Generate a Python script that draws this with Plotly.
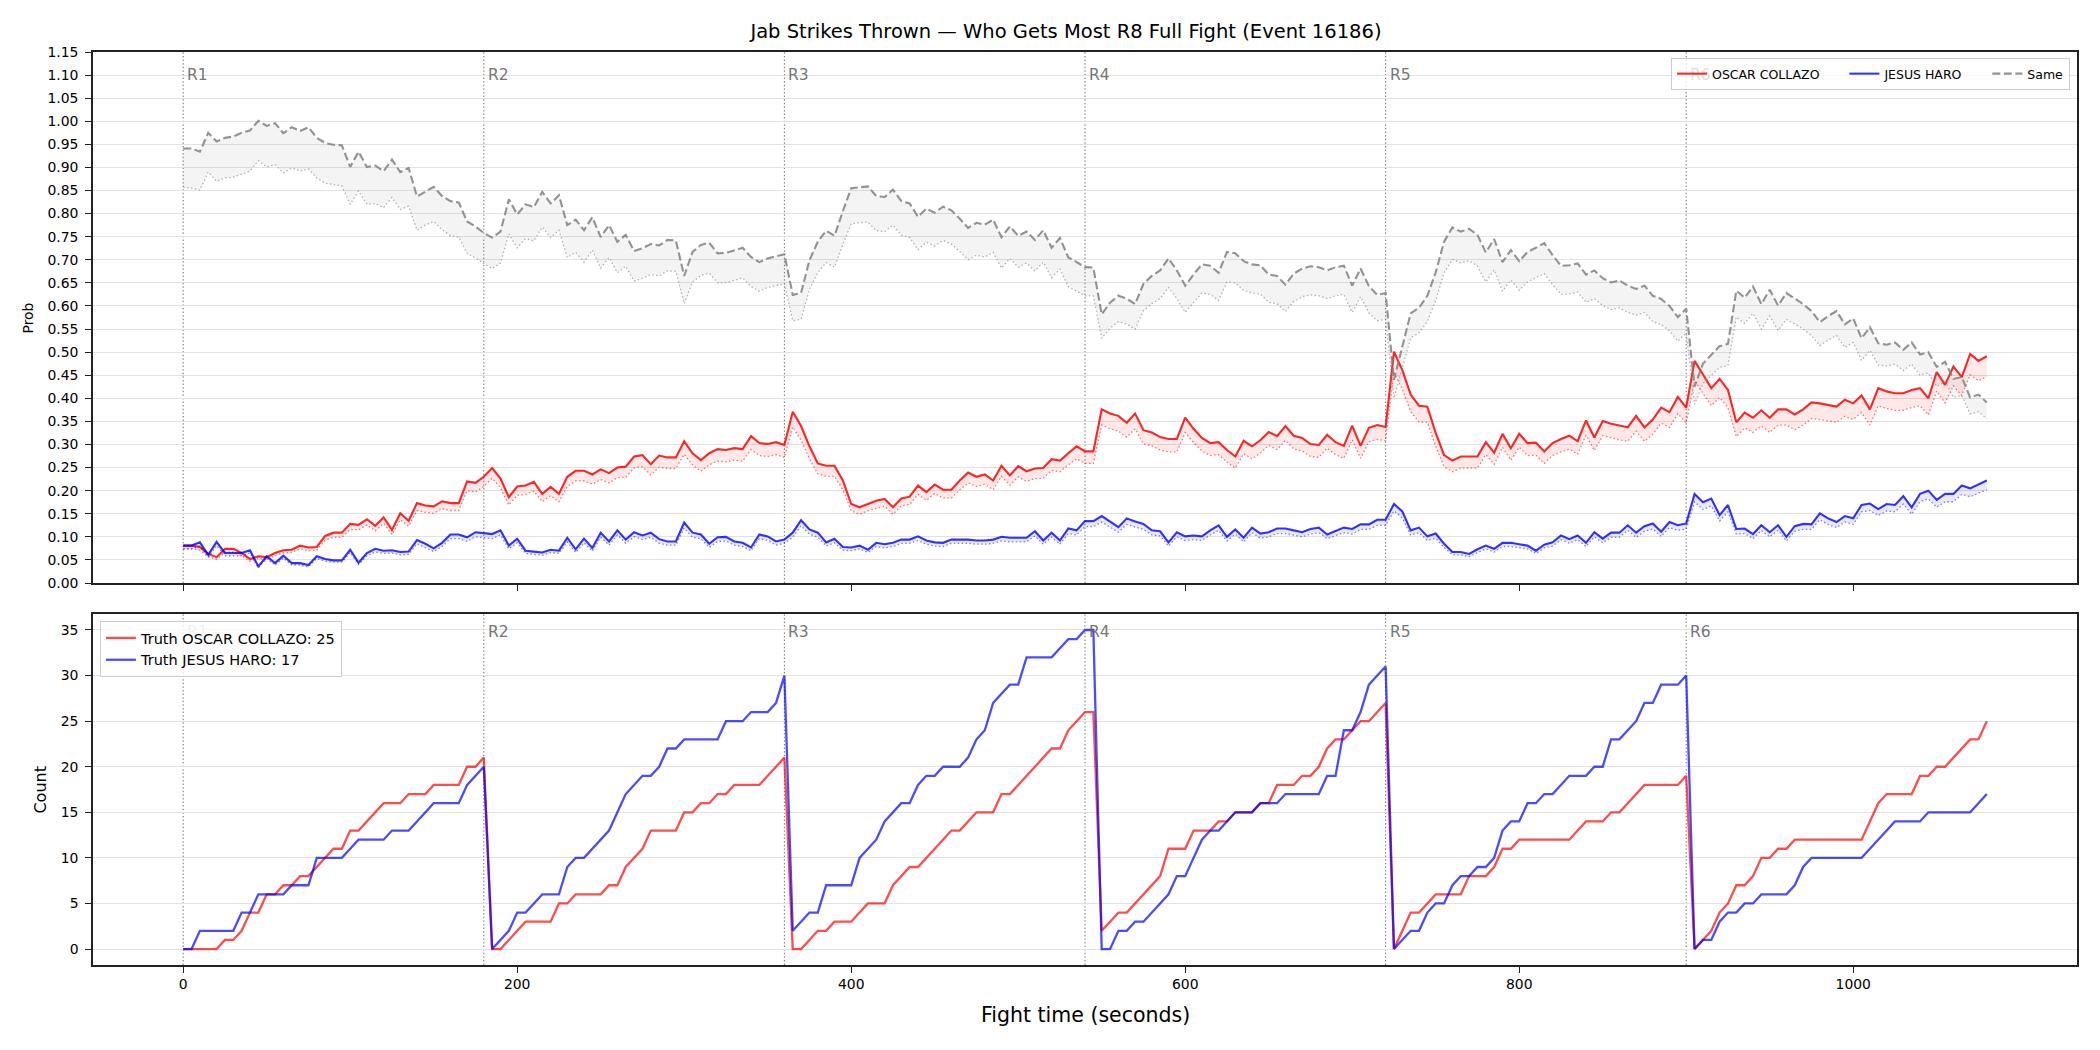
import plotly.graph_objects as go

# ---------------- data ----------------
t = list(range(0, 1081, 5))  # fight time, seconds

round_starts = [0, 180, 360, 540, 720, 900]
round_labels = ["R1", "R2", "R3", "R4", "R5", "R6"]

# "Same" probability: upper (dashed) and lower (dotted) band edges
same_hi = [
    0.941, 0.941, 0.934, 0.975, 0.956, 0.964, 0.967, 0.975, 0.980, 1.001, 0.990, 0.996, 0.974, 0.987, 0.979, 0.987, 0.964, 0.953, 0.949,
    0.948, 0.901, 0.934, 0.901, 0.904, 0.892, 0.917, 0.890, 0.899, 0.837, 0.847, 0.858, 0.838, 0.827, 0.824, 0.783, 0.772, 0.758,
    0.748, 0.761, 0.831, 0.798, 0.820, 0.814, 0.847, 0.822, 0.840, 0.775, 0.787, 0.764, 0.792, 0.749, 0.775, 0.739, 0.754, 0.719,
    0.725, 0.734, 0.731, 0.743, 0.742, 0.665, 0.717, 0.732, 0.737, 0.714, 0.715, 0.720, 0.726, 0.706, 0.695, 0.703, 0.708, 0.712,
    0.624, 0.628, 0.699, 0.739, 0.763, 0.752, 0.805, 0.855, 0.857, 0.859, 0.838, 0.836, 0.852, 0.827, 0.822, 0.793, 0.811, 0.802,
    0.815, 0.807, 0.789, 0.769, 0.780, 0.776, 0.787, 0.749, 0.772, 0.752, 0.761, 0.743, 0.764, 0.726, 0.747, 0.705, 0.695, 0.684,
    0.683, 0.582, 0.607, 0.622, 0.616, 0.604, 0.648, 0.665, 0.677, 0.703, 0.677, 0.644, 0.668, 0.690, 0.687, 0.672, 0.717, 0.714,
    0.697, 0.690, 0.688, 0.668, 0.665, 0.646, 0.670, 0.681, 0.686, 0.684, 0.677, 0.684, 0.687, 0.644, 0.681, 0.643, 0.624, 0.628,
    0.440, 0.512, 0.584, 0.596, 0.622, 0.673, 0.739, 0.770, 0.761, 0.767, 0.754, 0.716, 0.745, 0.695, 0.721, 0.697, 0.717, 0.726,
    0.736, 0.710, 0.687, 0.688, 0.692, 0.668, 0.677, 0.660, 0.651, 0.655, 0.644, 0.637, 0.644, 0.622, 0.615, 0.600, 0.576, 0.594,
    0.425, 0.475, 0.494, 0.513, 0.518, 0.633, 0.618, 0.642, 0.604, 0.635, 0.601, 0.628, 0.616, 0.604, 0.589, 0.565, 0.578, 0.589,
    0.560, 0.573, 0.530, 0.554, 0.519, 0.516, 0.521, 0.505, 0.521, 0.495, 0.500, 0.468, 0.479, 0.442, 0.446, 0.402, 0.408, 0.391,
]
same_lo = [
    0.857, 0.855, 0.851, 0.890, 0.870, 0.877, 0.879, 0.885, 0.892, 0.915, 0.901, 0.906, 0.888, 0.899, 0.892, 0.897, 0.877, 0.866, 0.863,
    0.860, 0.820, 0.849, 0.820, 0.822, 0.813, 0.835, 0.809, 0.816, 0.764, 0.775, 0.783, 0.765, 0.752, 0.749, 0.714, 0.704, 0.692,
    0.681, 0.693, 0.756, 0.726, 0.746, 0.741, 0.771, 0.748, 0.764, 0.705, 0.716, 0.695, 0.721, 0.682, 0.705, 0.672, 0.686, 0.654,
    0.660, 0.668, 0.665, 0.676, 0.675, 0.605, 0.652, 0.666, 0.671, 0.650, 0.651, 0.655, 0.661, 0.642, 0.632, 0.640, 0.644, 0.648,
    0.568, 0.571, 0.636, 0.672, 0.694, 0.684, 0.733, 0.778, 0.780, 0.782, 0.763, 0.761, 0.775, 0.753, 0.748, 0.722, 0.738, 0.730,
    0.742, 0.734, 0.718, 0.700, 0.710, 0.706, 0.716, 0.682, 0.703, 0.684, 0.693, 0.676, 0.695, 0.661, 0.680, 0.642, 0.632, 0.622,
    0.622, 0.530, 0.552, 0.566, 0.561, 0.550, 0.590, 0.605, 0.616, 0.640, 0.616, 0.586, 0.608, 0.628, 0.625, 0.612, 0.652, 0.650,
    0.634, 0.628, 0.626, 0.608, 0.605, 0.588, 0.610, 0.620, 0.624, 0.622, 0.616, 0.622, 0.625, 0.586, 0.620, 0.585, 0.568, 0.571,
    0.400, 0.466, 0.531, 0.542, 0.566, 0.612, 0.672, 0.701, 0.693, 0.698, 0.686, 0.652, 0.678, 0.632, 0.656, 0.634, 0.652, 0.661,
    0.670, 0.646, 0.625, 0.626, 0.630, 0.608, 0.616, 0.601, 0.592, 0.596, 0.586, 0.580, 0.586, 0.566, 0.560, 0.546, 0.524, 0.541,
    0.387, 0.432, 0.450, 0.467, 0.471, 0.576, 0.562, 0.584, 0.550, 0.578, 0.547, 0.571, 0.561, 0.550, 0.536, 0.514, 0.526, 0.536,
    0.510, 0.521, 0.482, 0.504, 0.472, 0.470, 0.474, 0.460, 0.474, 0.450, 0.455, 0.426, 0.436, 0.402, 0.406, 0.366, 0.371, 0.356,
]

# OSCAR COLLAZO probability: upper (solid) and lower (dotted)
oscar_hi = [
    0.081, 0.081, 0.078, 0.063, 0.056, 0.074, 0.074, 0.065, 0.052, 0.058, 0.056, 0.065, 0.071, 0.072, 0.081, 0.077, 0.078, 0.102, 0.109,
    0.109, 0.128, 0.126, 0.138, 0.124, 0.142, 0.115, 0.151, 0.135, 0.173, 0.168, 0.166, 0.177, 0.173, 0.173, 0.220, 0.217, 0.230,
    0.249, 0.226, 0.186, 0.209, 0.211, 0.219, 0.193, 0.208, 0.193, 0.230, 0.243, 0.243, 0.235, 0.246, 0.238, 0.250, 0.252, 0.274,
    0.277, 0.257, 0.276, 0.272, 0.272, 0.307, 0.281, 0.266, 0.281, 0.290, 0.288, 0.292, 0.290, 0.318, 0.303, 0.301, 0.305, 0.299,
    0.371, 0.340, 0.296, 0.259, 0.254, 0.254, 0.222, 0.171, 0.164, 0.171, 0.178, 0.182, 0.164, 0.183, 0.187, 0.211, 0.197, 0.213,
    0.202, 0.202, 0.222, 0.239, 0.230, 0.235, 0.222, 0.254, 0.233, 0.253, 0.242, 0.248, 0.249, 0.268, 0.265, 0.281, 0.296, 0.285,
    0.285, 0.376, 0.367, 0.362, 0.347, 0.367, 0.331, 0.326, 0.316, 0.312, 0.312, 0.358, 0.334, 0.314, 0.303, 0.305, 0.288, 0.274,
    0.308, 0.296, 0.309, 0.327, 0.318, 0.340, 0.319, 0.314, 0.301, 0.299, 0.321, 0.305, 0.297, 0.341, 0.297, 0.336, 0.342, 0.338,
    0.501, 0.461, 0.408, 0.384, 0.382, 0.325, 0.277, 0.265, 0.274, 0.274, 0.274, 0.305, 0.282, 0.323, 0.292, 0.323, 0.303, 0.304,
    0.285, 0.303, 0.312, 0.319, 0.307, 0.352, 0.315, 0.351, 0.345, 0.341, 0.337, 0.362, 0.337, 0.354, 0.380, 0.370, 0.403, 0.380,
    0.481, 0.452, 0.422, 0.442, 0.418, 0.348, 0.369, 0.358, 0.374, 0.358, 0.376, 0.376, 0.365, 0.376, 0.391, 0.389, 0.386, 0.382,
    0.397, 0.389, 0.406, 0.376, 0.422, 0.415, 0.411, 0.411, 0.418, 0.422, 0.400, 0.457, 0.429, 0.469, 0.446, 0.496, 0.481, 0.491,
]
oscar_lo = [
    0.074, 0.074, 0.071, 0.057, 0.051, 0.067, 0.067, 0.059, 0.047, 0.053, 0.051, 0.059, 0.065, 0.066, 0.074, 0.070, 0.071, 0.093, 0.099,
    0.099, 0.116, 0.115, 0.126, 0.113, 0.129, 0.105, 0.137, 0.123, 0.157, 0.153, 0.151, 0.161, 0.157, 0.157, 0.200, 0.197, 0.209,
    0.227, 0.206, 0.169, 0.190, 0.192, 0.199, 0.176, 0.189, 0.176, 0.209, 0.221, 0.221, 0.214, 0.224, 0.217, 0.228, 0.229, 0.249,
    0.252, 0.234, 0.251, 0.248, 0.248, 0.279, 0.256, 0.242, 0.256, 0.264, 0.262, 0.266, 0.264, 0.289, 0.276, 0.274, 0.278, 0.272,
    0.338, 0.309, 0.269, 0.236, 0.231, 0.231, 0.202, 0.156, 0.149, 0.156, 0.162, 0.166, 0.149, 0.167, 0.170, 0.192, 0.179, 0.194,
    0.184, 0.184, 0.202, 0.217, 0.209, 0.214, 0.202, 0.231, 0.212, 0.230, 0.220, 0.226, 0.227, 0.244, 0.241, 0.256, 0.269, 0.259,
    0.259, 0.342, 0.334, 0.329, 0.316, 0.334, 0.301, 0.297, 0.288, 0.284, 0.284, 0.326, 0.304, 0.286, 0.276, 0.278, 0.262, 0.249,
    0.280, 0.269, 0.281, 0.298, 0.289, 0.309, 0.290, 0.286, 0.274, 0.272, 0.292, 0.278, 0.270, 0.310, 0.270, 0.306, 0.311, 0.308,
    0.456, 0.420, 0.371, 0.349, 0.348, 0.296, 0.252, 0.241, 0.249, 0.249, 0.249, 0.278, 0.257, 0.294, 0.266, 0.294, 0.276, 0.277,
    0.259, 0.276, 0.284, 0.290, 0.279, 0.320, 0.287, 0.319, 0.314, 0.310, 0.307, 0.329, 0.307, 0.322, 0.346, 0.337, 0.367, 0.346,
    0.438, 0.411, 0.384, 0.402, 0.380, 0.317, 0.336, 0.326, 0.340, 0.326, 0.342, 0.342, 0.332, 0.342, 0.356, 0.354, 0.351, 0.348,
    0.361, 0.354, 0.369, 0.342, 0.384, 0.378, 0.374, 0.374, 0.380, 0.384, 0.364, 0.416, 0.390, 0.427, 0.406, 0.451, 0.438, 0.447,
]

# JESUS HARO probability: upper (solid) and lower (dotted)
jesus_hi = [
    0.081, 0.081, 0.088, 0.061, 0.089, 0.065, 0.065, 0.065, 0.071, 0.036, 0.058, 0.043, 0.059, 0.043, 0.043, 0.039, 0.058, 0.052, 0.049,
    0.049, 0.072, 0.044, 0.065, 0.074, 0.070, 0.071, 0.067, 0.068, 0.093, 0.085, 0.075, 0.087, 0.105, 0.105, 0.099, 0.110, 0.108,
    0.106, 0.114, 0.081, 0.096, 0.070, 0.068, 0.066, 0.072, 0.070, 0.098, 0.073, 0.096, 0.076, 0.109, 0.090, 0.114, 0.094, 0.110,
    0.103, 0.109, 0.095, 0.090, 0.090, 0.131, 0.109, 0.105, 0.085, 0.099, 0.100, 0.090, 0.087, 0.077, 0.105, 0.101, 0.090, 0.094,
    0.109, 0.136, 0.116, 0.109, 0.088, 0.096, 0.078, 0.077, 0.081, 0.072, 0.087, 0.084, 0.087, 0.094, 0.094, 0.101, 0.092, 0.088,
    0.087, 0.094, 0.094, 0.094, 0.092, 0.092, 0.094, 0.100, 0.098, 0.098, 0.098, 0.112, 0.092, 0.109, 0.092, 0.118, 0.114, 0.134,
    0.134, 0.145, 0.133, 0.121, 0.140, 0.133, 0.128, 0.114, 0.112, 0.088, 0.110, 0.101, 0.103, 0.101, 0.114, 0.125, 0.100, 0.116,
    0.098, 0.120, 0.107, 0.110, 0.118, 0.118, 0.114, 0.110, 0.117, 0.120, 0.105, 0.112, 0.120, 0.117, 0.127, 0.127, 0.137, 0.137,
    0.171, 0.155, 0.114, 0.120, 0.101, 0.107, 0.085, 0.067, 0.067, 0.063, 0.073, 0.081, 0.074, 0.087, 0.087, 0.084, 0.081, 0.070,
    0.083, 0.088, 0.103, 0.095, 0.103, 0.087, 0.110, 0.096, 0.109, 0.109, 0.125, 0.109, 0.123, 0.129, 0.111, 0.132, 0.125, 0.129,
    0.193, 0.175, 0.183, 0.147, 0.169, 0.117, 0.118, 0.106, 0.125, 0.110, 0.125, 0.100, 0.123, 0.128, 0.127, 0.151, 0.140, 0.132,
    0.145, 0.140, 0.169, 0.172, 0.160, 0.171, 0.169, 0.188, 0.164, 0.193, 0.200, 0.180, 0.193, 0.193, 0.211, 0.205, 0.213, 0.222,
]
jesus_lo = [
    0.074, 0.074, 0.080, 0.056, 0.081, 0.059, 0.059, 0.059, 0.065, 0.033, 0.053, 0.039, 0.054, 0.039, 0.039, 0.035, 0.053, 0.047, 0.045,
    0.045, 0.066, 0.040, 0.059, 0.067, 0.064, 0.065, 0.061, 0.062, 0.085, 0.077, 0.068, 0.079, 0.096, 0.096, 0.090, 0.100, 0.098,
    0.096, 0.104, 0.074, 0.087, 0.064, 0.062, 0.060, 0.066, 0.064, 0.089, 0.066, 0.087, 0.069, 0.099, 0.082, 0.104, 0.086, 0.100,
    0.094, 0.099, 0.086, 0.082, 0.082, 0.119, 0.099, 0.096, 0.077, 0.090, 0.091, 0.082, 0.079, 0.070, 0.096, 0.092, 0.082, 0.086,
    0.099, 0.124, 0.106, 0.099, 0.080, 0.087, 0.071, 0.070, 0.074, 0.066, 0.079, 0.076, 0.079, 0.086, 0.086, 0.092, 0.084, 0.080,
    0.079, 0.086, 0.086, 0.086, 0.084, 0.084, 0.086, 0.091, 0.089, 0.089, 0.089, 0.102, 0.084, 0.099, 0.084, 0.107, 0.104, 0.122,
    0.122, 0.132, 0.121, 0.110, 0.127, 0.121, 0.116, 0.104, 0.102, 0.080, 0.100, 0.092, 0.094, 0.092, 0.104, 0.114, 0.091, 0.106,
    0.089, 0.109, 0.097, 0.100, 0.107, 0.107, 0.104, 0.100, 0.106, 0.109, 0.096, 0.102, 0.109, 0.106, 0.116, 0.116, 0.125, 0.125,
    0.156, 0.141, 0.104, 0.109, 0.092, 0.097, 0.077, 0.061, 0.061, 0.057, 0.066, 0.074, 0.067, 0.079, 0.079, 0.076, 0.074, 0.064,
    0.076, 0.080, 0.094, 0.086, 0.094, 0.079, 0.100, 0.087, 0.099, 0.099, 0.114, 0.099, 0.112, 0.117, 0.101, 0.120, 0.114, 0.117,
    0.176, 0.159, 0.167, 0.134, 0.154, 0.106, 0.107, 0.096, 0.114, 0.100, 0.114, 0.091, 0.112, 0.116, 0.116, 0.137, 0.127, 0.120,
    0.132, 0.127, 0.154, 0.157, 0.146, 0.156, 0.154, 0.171, 0.149, 0.176, 0.182, 0.164, 0.176, 0.176, 0.192, 0.187, 0.194, 0.202,
]

# Truth cumulative jab counts within each round
oscar_count = [
    0, 0, 0, 0, 0, 1, 1, 2, 4, 4, 6, 6, 7, 7, 8, 8, 9, 10, 11, 11, 13, 13, 14, 15, 16, 16, 16, 17, 17, 17, 18, 18, 18, 18, 20, 20, 21,
    0, 0, 1, 2, 3, 3, 3, 3, 5, 5, 6, 6, 6, 6, 7, 7, 9, 10, 11, 13, 13, 13, 13, 15, 15, 16, 16, 17, 17, 18, 18, 18, 18, 19, 20, 21,
    0, 0, 1, 2, 2, 3, 3, 3, 4, 5, 5, 5, 7, 8, 9, 9, 10, 11, 12, 13, 13, 14, 15, 15, 15, 17, 17, 18, 19, 20, 21, 22, 22, 24, 25, 26,
    26, 2, 3, 4, 4, 5, 6, 7, 8, 11, 11, 11, 13, 13, 13, 14, 14, 15, 15, 15, 16, 16, 18, 18, 18, 19, 19, 20, 22, 23, 23, 24, 25, 25, 26, 27,
    0, 2, 4, 4, 5, 6, 6, 6, 6, 8, 8, 8, 9, 11, 11, 12, 12, 12, 12, 12, 12, 12, 13, 14, 14, 14, 15, 15, 16, 17, 18, 18, 18, 18, 18, 19,
    0, 1, 2, 4, 5, 7, 7, 8, 10, 10, 11, 11, 12, 12, 12, 12, 12, 12, 12, 12, 12, 14, 16, 17, 17, 17, 17, 19, 19, 20, 20, 21, 22, 23, 23, 25,
]
jesus_count = [
    0, 0, 2, 2, 2, 2, 2, 4, 4, 6, 6, 6, 6, 7, 7, 7, 10, 10, 10, 10, 11, 12, 12, 12, 12, 13, 13, 13, 14, 15, 16, 16, 16, 16, 18, 19, 20,
    0, 1, 2, 4, 4, 5, 6, 6, 6, 9, 10, 10, 11, 12, 13, 15, 17, 18, 19, 19, 20, 22, 22, 23, 23, 23, 23, 23, 25, 25, 25, 26, 26, 26, 27, 30,
    2, 3, 4, 4, 7, 7, 7, 7, 10, 11, 12, 14, 15, 16, 16, 18, 19, 19, 20, 20, 20, 21, 23, 24, 27, 28, 29, 29, 32, 32, 32, 32, 33, 34, 34, 35,
    35, 0, 0, 2, 2, 3, 3, 4, 5, 6, 8, 8, 10, 12, 13, 13, 14, 15, 15, 15, 16, 16, 16, 17, 17, 17, 17, 17, 19, 19, 24, 24, 26, 29, 30, 31,
    0, 1, 2, 2, 4, 5, 5, 7, 8, 8, 9, 9, 10, 13, 14, 14, 16, 16, 17, 17, 18, 19, 19, 19, 20, 20, 23, 23, 24, 25, 27, 27, 29, 29, 29, 30,
    0, 1, 1, 3, 4, 4, 5, 5, 6, 6, 6, 6, 7, 9, 10, 10, 10, 10, 10, 10, 10, 11, 12, 13, 14, 14, 14, 14, 15, 15, 15, 15, 15, 15, 16, 17,
]

for arr in (same_hi, same_lo, oscar_hi, oscar_lo, jesus_hi, jesus_lo, oscar_count, jesus_count):
    assert len(arr) == len(t), len(arr)

name_a = "OSCAR COLLAZO"
name_b = "JESUS HARO"
name_same = "Same"

# ---------------- figure ----------------
FONT = "DejaVu Sans"
NBSP = "\u00a0"
fig = go.Figure()


def band(lo, hi, line_color, dot_color, fill_color, name, dash, lw):
    fig.add_trace(go.Scatter(x=t, y=lo, mode="lines", xaxis="x", yaxis="y", showlegend=False,
                             line=dict(color=dot_color, width=1.3, dash="1.5px,2.4px"), hoverinfo="skip"))
    fig.add_trace(go.Scatter(x=t, y=hi, mode="lines", xaxis="x", yaxis="y", showlegend=False,
                             fill="tonexty", fillcolor=fill_color,
                             line=dict(color="rgba(0,0,0,0)", width=0), hoverinfo="skip"))
    fig.add_trace(go.Scatter(x=t, y=hi, mode="lines", xaxis="x", yaxis="y", name=name, legend="legend",
                             line=dict(color=line_color, width=lw, dash=dash)))


band(oscar_lo, oscar_hi, "rgba(255,0,0,0.85)", "rgba(255,0,0,0.55)", "rgba(255,0,0,0.09)",
     name_a + NBSP * 5, "solid", 2.1)
band(jesus_lo, jesus_hi, "rgba(0,0,255,0.8)", "rgba(0,0,255,0.5)", "rgba(0,0,255,0.09)",
     name_b + NBSP * 5, "solid", 2.1)
band(same_lo, same_hi, "rgba(128,128,128,0.85)", "rgba(128,128,128,0.6)", "rgba(128,128,128,0.09)",
     name_same, "8px,3.5px", 2.1)

fig.add_trace(go.Scatter(x=t, y=oscar_count, mode="lines", xaxis="x2", yaxis="y2", legend="legend2",
                         name=f"Truth {name_a}: {oscar_count[-1]}",
                         line=dict(color="rgba(255,0,0,0.7)", width=2.3)))
fig.add_trace(go.Scatter(x=t, y=jesus_count, mode="lines", xaxis="x2", yaxis="y2", legend="legend2",
                         name=f"Truth {name_b}: {jesus_count[-1]}",
                         line=dict(color="rgba(0,0,255,0.7)", width=2.3)))

shapes = []
annotations = []
for rs, rl in zip(round_starts, round_labels):
    for xr, yr, yfrac, faded in (("x", "y", 0.9567, rl == "R6"), ("x2", "y2", 0.9487, rl == "R1")):
        shapes.append(dict(type="line", xref=xr, yref=yr + " domain", x0=rs, x1=rs, y0=0, y1=1,
                           line=dict(color="rgba(60,60,60,0.75)", width=1, dash="1.4px,2.2px"), layer="below"))
        col = "rgba(100,100,100,0.9)"
        if faded:
            col = "rgba(100,100,100,0.22)" if yr == "y" else "rgba(100,100,100,0.10)"
        annotations.append(dict(x=rs, y=yfrac, xref=xr, yref=yr + " domain", text=rl, showarrow=False,
                                xanchor="left", yanchor="middle", xshift=2,
                                font=dict(family=FONT, size=15.5, color=col)))

annotations.append(dict(x=-0.0328, y=0.5, xref="paper", yref="y domain", text="Prob", textangle=-90,
                        showarrow=False, xanchor="center", yanchor="middle",
                        font=dict(family=FONT, size=13.9, color="black")))
annotations.append(dict(x=-0.0267, y=0.5, xref="paper", yref="y2 domain", text="Count", textangle=-90,
                        showarrow=False, xanchor="center", yanchor="middle",
                        font=dict(family=FONT, size=16, color="black")))
annotations.append(dict(x=0.5, y=-0.055, xref="paper", yref="paper", text="Fight time (seconds)",
                        showarrow=False, xanchor="center", yanchor="middle",
                        font=dict(family=FONT, size=20.5, color="black")))

axis_common = dict(showline=True, mirror=True, linecolor="#222222", linewidth=1.5,
                   ticks="outside", ticklen=6, tickwidth=1.3, tickcolor="#222222", zeroline=False,
                   tickfont=dict(family=FONT, size=13.9, color="black"))

fig.update_layout(
    width=2100, height=1050,
    margin=dict(l=93, r=23, t=52, b=85),
    paper_bgcolor="white", plot_bgcolor="white",
    font=dict(family=FONT, color="black"),
    title=dict(text="Jab Strikes Thrown — Who Gets Most R8 Full Fight (Event 16186)",
               x=0.5076, xref="container", xanchor="center", y=0.9705, yref="container", yanchor="middle",
               font=dict(family=FONT, size=19.5, color="black")),
    xaxis=dict(domain=[0, 1], anchor="y", range=[-54, 1134], tickvals=[0, 200, 400, 600, 800, 1000],
               showticklabels=False, showgrid=False, matches="x2", **axis_common),
    yaxis=dict(domain=[0.4184, 1], anchor="x", range=[0, 1.15], tick0=0, dtick=0.05, tickformat=".2f",
               showgrid=True, gridcolor="#e2e2e2", gridwidth=1, ticklabelstandoff=4, **axis_common),
    xaxis2=dict(domain=[0, 1], anchor="y2", range=[-54, 1134], tickvals=[0, 200, 400, 600, 800, 1000],
                showgrid=False, **axis_common),
    yaxis2=dict(domain=[0, 0.3844], anchor="x2", range=[-1.75, 36.75], tick0=0, dtick=5,
                showgrid=True, gridcolor="#e2e2e2", gridwidth=1, ticklabelstandoff=4, **axis_common),
    legend=dict(orientation="h", x=0.9965, y=0.9934, xanchor="right", yanchor="top", traceorder="normal",
                bgcolor="rgba(255,255,255,0.8)", bordercolor="#cccccc", borderwidth=1,
                font=dict(family=FONT, size=12.5, color="black"), itemwidth=30, tracegroupgap=0),
    legend2=dict(orientation="v", x=0.0035, y=0.3768, xanchor="left", yanchor="top", traceorder="normal",
                 bgcolor="rgba(255,255,255,0.8)", bordercolor="#cccccc", borderwidth=1,
                 font=dict(family=FONT, size=14.5, color="black"), itemwidth=30),
    shapes=shapes,
    annotations=annotations,
    showlegend=True,
)

fig.write_html("out.html")
